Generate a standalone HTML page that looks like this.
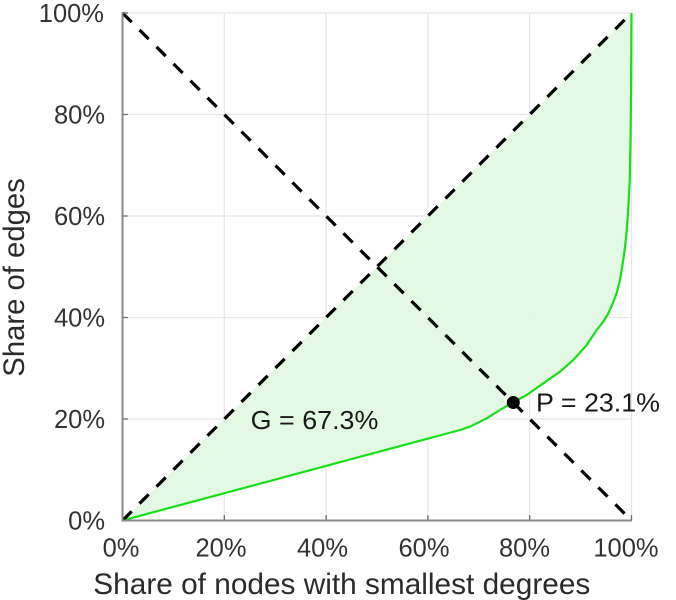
<!DOCTYPE html>
<html>
<head>
<meta charset="utf-8">
<style>
  html, body { margin: 0; padding: 0; background: #ffffff; }
  svg { display: block; }
  text { font-family: "Liberation Sans", Arial, sans-serif; }
</style>
</head>
<body>
<svg width="676" height="600" viewBox="0 0 676 600" xmlns="http://www.w3.org/2000/svg">
  <rect x="0" y="0" width="676" height="600" fill="#ffffff"/>

  <!-- gridlines -->
  <g stroke="#e6e6e6" stroke-width="1.2" fill="none">
    <line x1="224.3" y1="13" x2="224.3" y2="520.5"/>
    <line x1="326.1" y1="13" x2="326.1" y2="520.5"/>
    <line x1="427.9" y1="13" x2="427.9" y2="520.5"/>
    <line x1="529.7" y1="13" x2="529.7" y2="520.5"/>
    <line x1="631.5" y1="13" x2="631.5" y2="520.5"/>
    <line x1="122.5" y1="419" x2="631.5" y2="419"/>
    <line x1="122.5" y1="317.5" x2="631.5" y2="317.5"/>
    <line x1="122.5" y1="216" x2="631.5" y2="216"/>
    <line x1="122.5" y1="114.5" x2="631.5" y2="114.5"/>
    <line x1="122.5" y1="13" x2="631.5" y2="13"/>
  </g>

  <!-- filled area between equality line and Lorenz curve -->
  <polygon fill="#e3f9e3" fill-opacity="0.95" stroke="none"
    points="122.5,520.5 631.5,13 631,100 630.5,140 629.8,180 629,195 628,213 626.8,230 625,247 623.5,258 621.7,270 619.5,282 616.7,293 612.5,304 608,314 603,322 596.7,330 586.7,345 573.3,360 560,371.7 543.3,383.3 526.7,395 513.3,402 500,410 486.7,418.3 470,426.7 460,430"/>

  <!-- Lorenz curve -->
  <polyline fill="none" stroke="#16e016" stroke-width="2.2" stroke-linejoin="round"
    points="122.5,520.5 460,430 470,426.7 486.7,418.3 500,410 513.3,402 526.7,395 543.3,383.3 560,371.7 573.3,360 586.7,345 596.7,330 603,322 608,314 612.5,304 616.7,293 619.5,282 621.7,270 623.5,258 625,247 626.8,230 628,213 629,195 629.8,180 630.5,140 631,100 631.5,13"/>

  <!-- dashed diagonals -->
  <g stroke="#000000" stroke-width="3.2" stroke-dasharray="13 11" fill="none">
    <line x1="122.5" y1="13" x2="631.5" y2="520.5"/>
    <line x1="122.5" y1="520.5" x2="631.5" y2="13"/>
  </g>

  <!-- axes -->
  <g stroke="#8a8a8a" stroke-width="2" fill="none">
    <line x1="122.5" y1="12" x2="122.5" y2="521.5"/>
    <line x1="121.5" y1="520.5" x2="632" y2="520.5"/>
  </g>
  <!-- ticks -->
  <g stroke="#6e6e6e" stroke-width="1.3">
    <line x1="123" y1="419" x2="128" y2="419"/>
    <line x1="123" y1="317.5" x2="128" y2="317.5"/>
    <line x1="123" y1="216" x2="128" y2="216"/>
    <line x1="123" y1="114.5" x2="128" y2="114.5"/>
    <line x1="123" y1="13" x2="128" y2="13"/>
    <line x1="224.3" y1="520" x2="224.3" y2="515"/>
    <line x1="326.1" y1="520" x2="326.1" y2="515"/>
    <line x1="427.9" y1="520" x2="427.9" y2="515"/>
    <line x1="529.7" y1="520" x2="529.7" y2="515"/>
    <line x1="631.5" y1="520" x2="631.5" y2="515"/>
  </g>

  <!-- y tick labels -->
  <g font-size="25.5" fill="#333333" text-anchor="end">
    <text x="105" y="529.5">0%</text>
    <text x="105" y="428">20%</text>
    <text x="105" y="326.5">40%</text>
    <text x="105" y="225">60%</text>
    <text x="105" y="123.5">80%</text>
    <text x="104" y="22">100%</text>
  </g>

  <!-- x tick labels -->
  <g font-size="25.5" fill="#333333" text-anchor="middle">
    <text x="121" y="556.5">0%</text>
    <text x="221" y="556.5">20%</text>
    <text x="322.5" y="556.5">40%</text>
    <text x="424" y="556.5">60%</text>
    <text x="524.5" y="556.5">80%</text>
    <text x="626" y="556.5">100%</text>
  </g>

  <!-- axis labels -->
  <text x="93.3" y="594" font-size="29.5" fill="#2b2b2b" textLength="497" lengthAdjust="spacingAndGlyphs">Share of nodes with smallest degrees</text>
  <text transform="translate(24,376.7) rotate(-90)" x="0" y="0" font-size="29.5" fill="#2b2b2b" textLength="198.5" lengthAdjust="spacingAndGlyphs">Share of edges</text>

  <!-- annotations -->
  <text x="250.7" y="429" font-size="26" fill="#1a1a1a" textLength="127.7" lengthAdjust="spacingAndGlyphs">G = 67.3%</text>
  <circle cx="513.3" cy="402.5" r="6.5" fill="#000000"/>
  <text x="536" y="411.5" font-size="26" fill="#1a1a1a" textLength="124" lengthAdjust="spacingAndGlyphs">P = 23.1%</text>
</svg>
</body>
</html>
